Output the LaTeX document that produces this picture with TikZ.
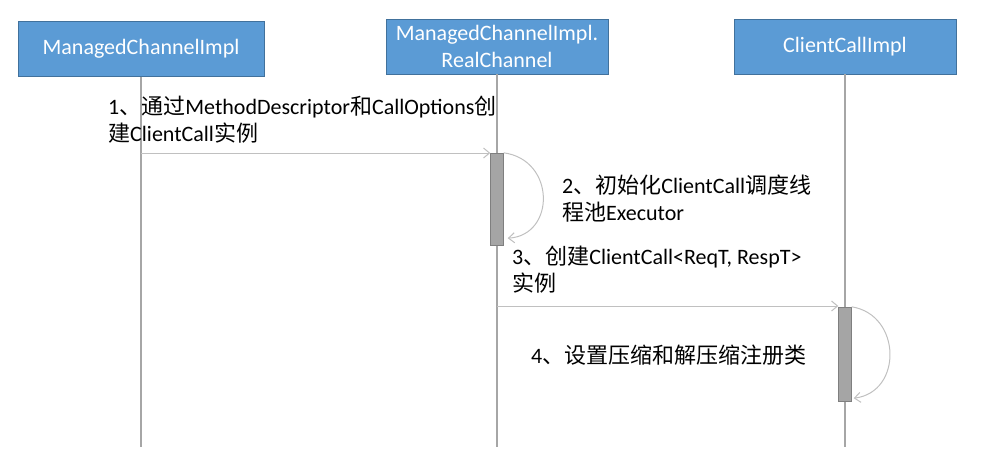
\documentclass[tikz,border=0pt]{standalone}
\usepackage{fontspec}
\setmainfont{Carlito}
\newfontfamily\cjk{Noto Sans CJK SC}
\newcommand{\zhtext}[1]{{\cjk #1}}
\usepackage{tikz}
\usetikzlibrary{arrows.meta}
\definecolor{boxblue}{HTML}{5B9BD5}
\definecolor{boxedge}{HTML}{41719C}
\definecolor{lifegray}{HTML}{A6A6A6}
\definecolor{msggray}{HTML}{C0C0C0}
\definecolor{bargray}{HTML}{A5A5A5}
\definecolor{baredge}{HTML}{7F7F7F}

\begin{document}
\begin{tikzpicture}[
    x=1pt, y=-1pt,
    >={Straight Barb[length=6pt,width=10pt]},
    font=\fontsize{22}{27}\selectfont
]

\tikzstyle{object}=[
    rectangle,
    draw=boxedge,
    fill=boxblue,
    text=white,
    minimum height=55pt,
    inner sep=0pt,
    align=center
]
\tikzstyle{activation}=[rectangle, draw=baredge, fill=bargray, minimum width=13pt, inner sep=0pt]
\tikzstyle{lifeline}=[draw=lifegray, line width=1.2pt]
\tikzstyle{message}=[->, draw=msggray, line width=1pt]
\tikzstyle{note}=[anchor=base west, align=left, inner sep=0pt]

\useasboundingbox (0,0) rectangle (989,472);

\node[object, minimum width=246pt] (mci) at (141,49) {ManagedChannelImpl};
\node[object, minimum width=222pt] (real) at (497,46.5) {ManagedChannelImpl.\\RealChannel};
\node[object, minimum width=222pt] (cci) at (845,46.5) {ClientCallImpl};


\coordinate (mciEnd) at (mci.south |- 0,447);
\coordinate (realEnd) at (real.south |- 0,447);
\coordinate (cciEnd) at (cci.south |- 0,447);
\draw[lifeline] (mci.south) -- (mciEnd);
\draw[lifeline] (real.south) -- (realEnd);
\draw[lifeline] (cci.south) -- (cciEnd);

\node[activation, minimum height=92pt] (bar2) at (real.south |- 0,199) {};
\node[activation, minimum height=94pt] (bar3) at (cci.south |- 0,354) {};

% messages
\coordinate (m1) at (mci.south |- 0,153);
\coordinate (m3) at (real.south |- 0,306);
\draw[message] (m1) -- (m1 -| bar2.west);
\draw[message] (bar2.north east) .. controls +(52,7) and +(48,-3) .. ([xshift=4pt,yshift=7pt]bar2.south east);
\draw[message] (m3) -- (m3 -| bar3.west);
\draw[message] (bar3.north east) .. controls +(50,8) and +(49,-6) .. ([xshift=2pt,yshift=3pt]bar3.south east);

\node[note] (t1) at (108,141) {1\zhtext{、通过}MethodDescriptor\zhtext{和}CallOptions\zhtext{创}\\\zhtext{建}ClientCall\zhtext{实例}};
\node[note] (t2) at (562,220) {2\zhtext{、初始化}ClientCall\zhtext{调度线}\\\zhtext{程池}Executor};
\node[note] (t3) at (512,291) {3\zhtext{、创建}ClientCall<ReqT, RespT>\\\zhtext{实例}};
\node[note] (t4) at (531,363) {4\zhtext{、设置压缩和解压缩注册类}};

\end{tikzpicture}
\end{document}
